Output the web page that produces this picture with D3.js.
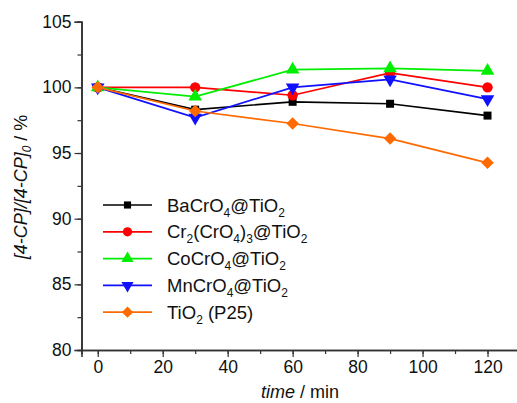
<!DOCTYPE html>
<html>
<head>
<meta charset="UTF-8">
<script src="https://d3js.org/d3.v7.min.js"></script>
<style>
  body { margin: 0; background: #fff; }
  svg { display: block; font-family: "Liberation Sans", Arial, sans-serif; }
</style>
</head>
<body>
<svg width="517" height="403"></svg>
<script>
const times = [0, 30, 60, 90, 120];
const baCrO4 = [100, 98.3, 98.9, 98.75, 97.85];
const cr2CrO4 = [100, 100, 99.4, 101.1, 100.0];
const coCrO4 = [100, 99.3, 101.35, 101.45, 101.25];
const mnCrO4 = [100, 97.7, 100.0, 100.6, 99.1];
const tio2 = [100, 98.2, 97.25, 96.1, 94.25];
const xTicks = [0, 20, 40, 60, 80, 100, 120];
const yTicks = [80, 85, 90, 95, 100, 105];

const series = [
  { label: ["BaCrO", ["4"], "@TiO", ["2"]], values: baCrO4, color: "#000000", symbol: d3.symbolSquare, size: 64, rot: 0 },
  { label: ["Cr", ["2"], "(CrO", ["4"], ")", ["3"], "@TiO", ["2"]], values: cr2CrO4, color: "#ff0000", symbol: d3.symbolCircle, size: 85, rot: 0 },
  { label: ["CoCrO", ["4"], "@TiO", ["2"]], values: coCrO4, color: "#00ee00", symbol: d3.symbolTriangle, size: 80, rot: 0 },
  { label: ["MnCrO", ["4"], "@TiO", ["2"]], values: mnCrO4, color: "#1010ff", symbol: d3.symbolTriangle, size: 80, rot: 180 },
  { label: ["TiO", ["2"], " (P25)"], values: tio2, color: "#ff6a00", symbol: d3.symbolSquare, size: 78, rot: 45 }
];

const svg = d3.select("svg");
const x = d3.scaleLinear().domain([-5, 130]).range([81.5, 520]);
const y = d3.scaleLinear().domain([80, 105]).range([350, 21.7]);

// axes
const xAxis = svg.append("g").attr("transform", "translate(0,350)");
xAxis.call(d3.axisBottom(x).tickValues(d3.range(0, 131, 10)).tickSize(4).tickFormat(""));
xAxis.call(g => g.append("g").call(d3.axisBottom(x).tickValues(xTicks).tickSize(7).tickPadding(4)));
const yAxis = svg.append("g").attr("transform", "translate(81.5,0)");
yAxis.call(d3.axisLeft(y).tickValues(d3.range(80, 105.1, 2.5)).tickSize(4).tickFormat(""));
yAxis.call(g => g.append("g").call(d3.axisLeft(y).tickValues(yTicks).tickSize(7).tickPadding(3)));
svg.selectAll(".domain").attr("stroke", "#333").attr("stroke-width", 1.6);
svg.selectAll(".tick line").attr("stroke", "#333").attr("stroke-width", 1.2);
svg.selectAll(".tick text").attr("font-size", 17.5).attr("fill", "#111").attr("font-family", "Liberation Sans, Arial, sans-serif");

// lines and markers
const line = d3.line().x((d, i) => x(times[i])).y(d => y(d));
series.forEach(s => {
  svg.append("path").datum(s.values)
    .attr("d", line).attr("fill", "none").attr("stroke", s.color).attr("stroke-width", 1.7);
  svg.selectAll(null).data(s.values).enter().append("path")
    .attr("d", d3.symbol().type(s.symbol).size(s.size))
    .attr("transform", (d, i) => `translate(${x(times[i])},${y(d)}) rotate(${s.rot})`)
    .attr("fill", s.color);
});

// legend
series.forEach((s, i) => {
  const ly = 205 + i * 26.8;
  const g = svg.append("g");
  g.append("line").attr("x1", 103).attr("x2", 152).attr("y1", ly).attr("y2", ly).attr("stroke", s.color).attr("stroke-width", 1.7);
  g.append("path").attr("d", d3.symbol().type(s.symbol).size(s.size * 0.8))
    .attr("transform", `translate(127.5,${ly}) rotate(${s.rot})`).attr("fill", s.color);
  const t = g.append("text").attr("x", 167).attr("y", ly + 6.5).attr("font-size", 18.5).attr("fill", "#111");
  let shift = 0;
  s.label.forEach(part => {
    if (Array.isArray(part)) {
      t.append("tspan").attr("font-size", 12).attr("dy", 5 - shift).text(part[0]);
      shift = 5;
    } else {
      t.append("tspan").attr("dy", -shift).text(part);
      shift = 0;
    }
  });
});

// axis titles
const xt = svg.append("text").attr("x", 300).attr("y", 398).attr("text-anchor", "middle").attr("font-size", 18).attr("fill", "#111");
xt.append("tspan").attr("font-style", "italic").text("time");
xt.append("tspan").text(" / min");

const yt = svg.append("text").attr("transform", "translate(27,187) rotate(-90)").attr("text-anchor", "middle").attr("font-size", 18).attr("fill", "#111");
yt.append("tspan").attr("font-style", "italic").text("[4-CP]/[4-CP]");
yt.append("tspan").attr("font-style", "italic").attr("font-size", 12).attr("dy", 4).text("0");
yt.append("tspan").attr("dy", -4).text(" / %");
</script>
</body>
</html>
